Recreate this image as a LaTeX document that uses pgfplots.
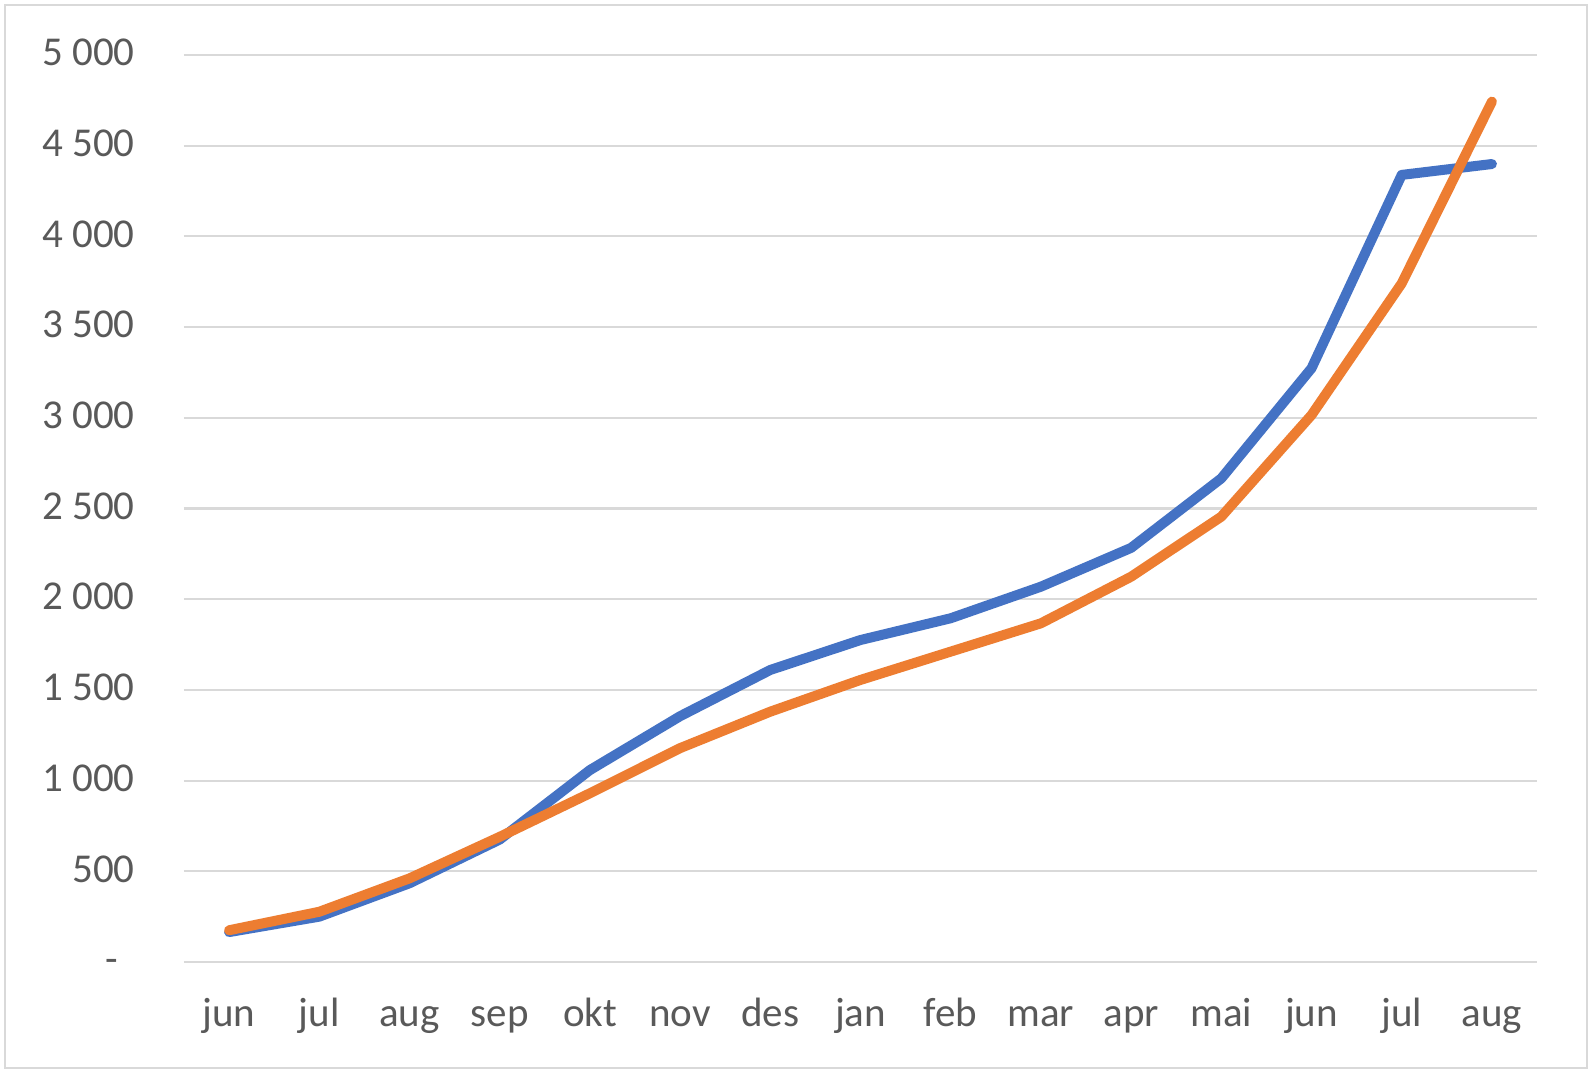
\documentclass[border=0pt]{standalone}
\usepackage{fontspec}
\setmainfont{Carlito}
\usepackage{pgfplots}
\pgfplotsset{compat=1.18}
\definecolor{cblue}{HTML}{4472C4}
\definecolor{corange}{HTML}{ED7D31}
\definecolor{cgrid}{HTML}{D9D9D9}
\definecolor{ctext}{HTML}{595959}
\begin{document}
\begin{tikzpicture}
\path[use as bounding box, fill=white] (-92pt,-57.5pt) rectangle (705.5pt,481pt);
\draw[cgrid, line width=1.3pt] (-89.5pt,-53pt) rectangle (701.5pt,478.5pt);
\begin{axis}[
 at={(0,0)}, anchor=south west,
 scale only axis, width=676.5pt, height=453.5pt,
 xmin=-0.5, xmax=14.5, ymin=0, ymax=5000,
 axis line style={draw=none},
 major tick length=0pt,
 xtick={0,...,14},
 xticklabels={jun,jul,aug,sep,okt,nov,des,jan,feb,mar,apr,mai,jun,jul,aug},
 ytick={0,500,...,5000},
 yticklabels={{-\hspace*{8.5pt}},500,1 000,1 500,2 000,2 500,3 000,3 500,4 000,4 500,5 000},
 ymajorgrids, grid style={cgrid, line width=1.1pt},
 tick label style={font=\fontsize{20.5}{24}\selectfont, text=ctext, inner sep=0pt},
 xticklabel style={anchor=base, yshift=-32.35pt},
 yticklabel style={anchor=base east, xshift=-24.5pt, yshift=-5.35pt},
 clip=false,
]
\addplot[cblue, line width=5pt, line cap=round, line join=round] coordinates {
(0,165) (1,250) (2,434) (3,675) (4,1058) (5,1355) (6,1610) (7,1775) (8,1895) (9,2069) (10,2283) (11,2666) (12,3273) (13,4339) (14,4399)};
\addplot[corange, line width=5pt, line cap=round, line join=round] coordinates {
(0,175) (1,277) (2,461) (3,690) (4,930) (5,1179) (6,1380) (7,1555) (8,1711) (9,1867) (10,2124) (11,2455) (12,3015) (13,3741) (14,4743)};
\end{axis}
\end{tikzpicture}
\end{document}
